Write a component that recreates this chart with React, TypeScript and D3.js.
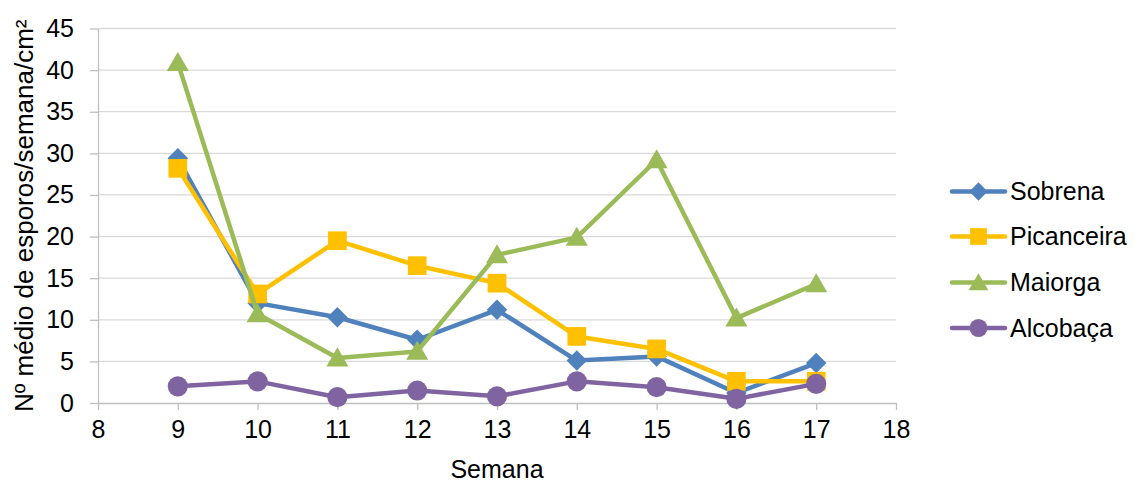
import { useEffect, useRef } from 'react';
import * as d3 from 'd3';

const weeks = [9, 10, 11, 12, 13, 14, 15, 16, 17];
const sobrena = [29.4, 12.0, 10.3, 7.6, 11.2, 5.1, 5.6, 1.2, 4.8];
const picanceira = [28.2, 13.1, 19.5, 16.5, 14.4, 8.0, 6.5, 2.6, 2.6];
const maiorga = [40.9, 10.7, 5.4, 6.2, 17.8, 19.9, 29.2, 10.2, 14.3];
const alcobaca = [2.0, 2.6, 0.7, 1.5, 0.8, 2.6, 1.9, 0.5, 2.3];
const seriesNames = ['Sobrena', 'Picanceira', 'Maiorga', 'Alcobaça'];
const xTicks = [8, 9, 10, 11, 12, 13, 14, 15, 16, 17, 18];
const yTicks = [0, 5, 10, 15, 20, 25, 30, 35, 40, 45];

const colors = ['#4F81BD', '#FFC000', '#9BBB59', '#8064A2'];
const symbols = [d3.symbolSquare, d3.symbolSquare, d3.symbolTriangle, d3.symbolCircle];
const symSizes = [210, 350, 210, 320];
const symRotate = [45, 0, 0, 0];

export default function App() {
  const svgRef = useRef<SVGSVGElement>(null);

  useEffect(() => {
    if (!svgRef.current) return;
    const svg = d3.select(svgRef.current);
    svg.selectAll('*').remove();

    const width = 1135;
    const height = 482;
    const font = '"Liberation Sans", Arial, sans-serif';
    const fs = 25;

    const x = d3.scaleLinear().domain([8, 18]).range([98, 896]);
    const y = d3.scaleLinear().domain([0, 45]).range([403, 28.5]);

    svg.attr('width', width).attr('height', height);

    // gridlines
    svg.append('g')
      .selectAll('line')
      .data(yTicks.filter((t) => t > 0))
      .join('line')
      .attr('x1', x(8))
      .attr('x2', x(18))
      .attr('y1', (d) => y(d))
      .attr('y2', (d) => y(d))
      .attr('stroke', '#d9d9d9')
      .attr('stroke-width', 1.3);

    // y axis
    const yAxis = svg.append('g')
      .attr('transform', `translate(${x(8)},0)`)
      .call(d3.axisLeft(y).tickValues(yTicks).tickSize(8).tickPadding(16).tickSizeOuter(0));
    yAxis.select('.domain').attr('stroke', '#bfbfbf').attr('stroke-width', 1.3);
    yAxis.selectAll('.tick line').attr('stroke', '#bfbfbf').attr('stroke-width', 1.3);
    yAxis.selectAll('.tick text')
      .attr('font-family', font)
      .attr('font-size', fs)
      .attr('fill', '#000');

    // x axis
    const xAxis = svg.append('g')
      .attr('transform', `translate(0,${y(0)})`)
      .call(d3.axisBottom(x).tickValues(xTicks).tickSize(7).tickPadding(10).tickSizeOuter(0));
    xAxis.select('.domain').attr('stroke', '#bfbfbf').attr('stroke-width', 1.3);
    xAxis.selectAll('.tick line').attr('stroke', '#bfbfbf').attr('stroke-width', 1.3);
    xAxis.selectAll('.tick text')
      .attr('font-family', font)
      .attr('font-size', fs)
      .attr('fill', '#000');

    // axis titles
    svg.append('text')
      .attr('x', x(13))
      .attr('y', 478)
      .attr('text-anchor', 'middle')
      .attr('font-family', font)
      .attr('font-size', fs)
      .text('Semana');

    svg.append('text')
      .attr('transform', `translate(33,${y(22.5)}) rotate(-90)`)
      .attr('text-anchor', 'middle')
      .attr('font-family', font)
      .attr('font-size', 26)
      .text('Nº médio de esporos/semana/cm²');

    const allSeries = [sobrena, picanceira, maiorga, alcobaca];
    const line = d3.line<number>()
      .x((_, i) => x(weeks[i]))
      .y((d) => y(d));

    allSeries.forEach((vals, si) => {
      const g = svg.append('g');
      g.append('path')
        .attr('d', line(vals))
        .attr('fill', 'none')
        .attr('stroke', colors[si])
        .attr('stroke-width', 4.5)
        .attr('stroke-linejoin', 'round');
      g.selectAll('path.marker')
        .data(vals)
        .join('path')
        .attr('class', 'marker')
        .attr('d', d3.symbol(symbols[si], symSizes[si]))
        .attr('transform', (d, i) =>
          `translate(${x(weeks[i])},${y(d) + (si === 2 ? 2 : 0)}) rotate(${symRotate[si]})`)
        .attr('fill', colors[si]);
    });

    // legend
    const legendY = [191.5, 236.5, 282.5, 328];
    seriesNames.forEach((name, si) => {
      const lg = svg.append('g').attr('transform', `translate(0,${legendY[si]})`);
      lg.append('line')
        .attr('x1', 952)
        .attr('x2', 1005)
        .attr('y1', 0)
        .attr('y2', 0)
        .attr('stroke', colors[si])
        .attr('stroke-width', 4.5)
        .attr('stroke-linecap', 'round');
      lg.append('path')
        .attr('d', d3.symbol(symbols[si], symSizes[si] * 0.8))
        .attr('transform', `translate(978.5,${si === 2 ? 2 : 0}) rotate(${symRotate[si]})`)
        .attr('fill', colors[si]);
      lg.append('text')
        .attr('x', 1010)
        .attr('y', 0)
        .attr('dy', '0.35em')
        .attr('font-family', font)
        .attr('font-size', fs)
        .text(name);
    });
  }, []);

  return (
    <svg
      ref={svgRef}
      style={{ position: 'absolute', left: 0, top: 0, display: 'block', background: '#fff' }}
    ></svg>
  );
}
